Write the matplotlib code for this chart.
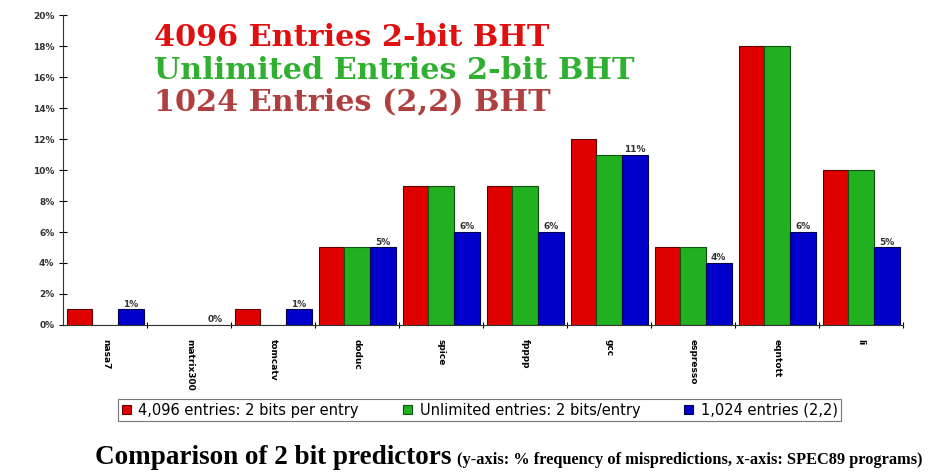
import matplotlib
matplotlib.use("Agg")
import matplotlib.pyplot as plt
import numpy as np

programs = ["nasa7", "matrix300", "tomcatv", "doduc", "spice", "fpppp", "gcc", "espresso", "eqntott", "li"]
bht_4096 = [1, 0, 1, 5, 9, 9, 12, 5, 18, 10]
bht_unlimited = [0, 0, 0, 5, 9, 9, 11, 5, 18, 10]
bht_22 = [1, 0, 1, 5, 6, 6, 11, 4, 6, 5]
series_names = ["4,096 entries: 2 bits per entry", "Unlimited entries: 2 bits/entry", "1,024 entries (2,2)"]
yticks = [0, 2, 4, 6, 8, 10, 12, 14, 16, 18, 20]

fig = plt.figure(figsize=(9.31, 4.73), dpi=100)
ax = fig.add_axes([0.068, 0.313, 0.902, 0.655])

x = np.arange(len(programs))
w = 0.305
colors = ["#e00000", "#20b020", "#0000cc"]
edges = ["#600000", "#105010", "#000050"]
for i, (vals, c, e, name) in enumerate(zip([bht_4096, bht_unlimited, bht_22], colors, edges, series_names)):
    ax.bar(x + (i - 1) * w, vals, width=w, color=c, edgecolor=e, linewidth=0.8, label=name)

for xi, v in zip(x, bht_22):
    ax.text(xi + w + 0.0, v + 0.05, f"{v}%", ha="center", va="bottom", fontsize=6.5, fontweight="bold", color="#333333")

ax.set_xlim(-0.5, len(programs) - 0.5)
ax.set_ylim(0, 20)
ax.set_yticks(yticks)
ax.set_yticklabels([f"{t}%" for t in yticks], fontsize=6.5, fontweight="bold", color="#333333")
ax.set_xticks(x + 0.5, minor=False)
ax.set_xticklabels([])
ax.set_xticks(x, minor=True)
ax.set_xticklabels(programs, minor=True, rotation=270, fontsize=6.5, fontweight="bold", va="top", ha="center")
ax.tick_params(axis="x", which="minor", length=0, pad=10)
ax.tick_params(axis="x", which="major", direction="inout", length=5)
ax.tick_params(axis="y", direction="inout", length=6)
for s in ["top", "right"]:
    ax.spines[s].set_visible(False)
ax.spines["left"].set_color("#333333")
ax.spines["bottom"].set_color("#333333")

leg = fig.legend(loc="center left", bbox_to_anchor=(0.119, 0.133), ncol=3, fontsize=10.5, frameon=True,
                 fancybox=False, edgecolor="#555555", handlelength=0.65, handleheight=0.65,
                 columnspacing=3.0, borderpad=0.25, handletextpad=0.5)
leg.get_frame().set_linewidth(0.8)

for txt, col, yy in [("4096 Entries 2-bit BHT", "#e01010", 0.92),
                     ("Unlimited Entries 2-bit BHT", "#30b030", 0.852),
                     ("1024 Entries (2,2) BHT", "#b04040", 0.784)]:
    fig.text(0.165, yy, txt, color=col, fontsize=21.8, fontweight="heavy", family="DejaVu Serif", va="center")

t1 = fig.text(0.102, 0.02, "Comparison of 2 bit predictors", fontsize=19.5, fontweight="bold",
              family="Liberation Serif", va="baseline")
fig.canvas.draw()
bb = t1.get_window_extent()
x1 = bb.x1 / fig.bbox.width
fig.text(x1 + 0.006, 0.02, "(y-axis: % frequency of mispredictions, x-axis: SPEC89 programs)", fontsize=11.8,
         fontweight="bold", family="Liberation Serif", va="baseline")

fig.savefig("out.png", dpi=100)
